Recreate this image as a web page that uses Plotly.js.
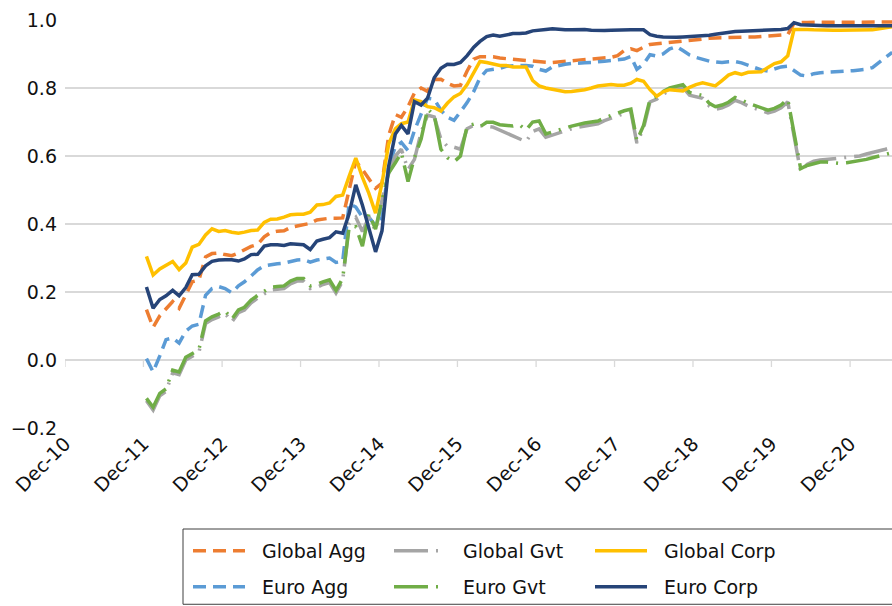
<!DOCTYPE html>
<html>
<head>
<meta charset="utf-8">
<script src="https://cdn.plot.ly/plotly-3.0.1.min.js"></script>
<style>html,body{margin:0;padding:0;background:#fff;}#chart{width:892px;height:606px;}</style>
</head>
<body>
<div id="chart"></div>
<script>
// Monthly observations, Dec-2011 .. Jun-2021 (115 months)
const startYear = 2011, startMonth = 12, nMonths = 115;

const tickDates = ['2010-12-01','2011-12-01','2012-12-01','2013-12-01','2014-12-01','2015-12-01','2016-12-01','2017-12-01','2018-12-01','2019-12-01','2020-12-01'];
const tickLabels = ['Dec-10','Dec-11','Dec-12','Dec-13','Dec-14','Dec-15','Dec-16','Dec-17','Dec-18','Dec-19','Dec-20'];

const globalAgg = [
0.148,0.096,0.13,0.15,0.172,0.152,0.19,0.23,0.235,0.303,0.313,0.315,
0.31,0.307,0.315,0.325,0.334,0.34,0.362,0.375,0.379,0.38,0.39,0.394,
0.397,0.402,0.412,0.415,0.417,0.417,0.418,0.5,0.585,0.56,0.535,0.505,
0.52,0.66,0.722,0.714,0.745,0.785,0.8,0.79,0.825,0.826,0.814,0.806,
0.808,0.85,0.885,0.892,0.892,0.892,0.888,0.886,0.885,0.884,0.882,0.88,
0.878,0.876,0.875,0.876,0.878,0.88,0.882,0.884,0.886,0.887,0.889,0.89,
0.895,0.91,0.915,0.91,0.92,0.928,0.93,0.932,0.935,0.938,0.94,0.942,
0.944,0.945,0.946,0.947,0.948,0.948,0.949,0.949,0.95,0.95,0.951,0.952,
0.953,0.955,0.957,0.99,0.993,0.993,0.993,0.993,0.993,0.993,0.993,0.993,
0.993,0.993,0.993,0.993,0.993,0.993,0.994];

const euroAgg = [
0.004,-0.035,0.012,0.06,0.065,0.05,0.085,0.1,0.105,0.19,0.21,0.216,
0.21,0.198,0.218,0.23,0.247,0.265,0.277,0.281,0.283,0.285,0.29,0.294,
0.295,0.288,0.294,0.298,0.3,0.287,0.29,0.46,0.45,0.42,0.42,0.395,
0.42,0.57,0.627,0.64,0.616,0.675,0.723,0.77,0.767,0.735,0.714,0.705,
0.73,0.757,0.79,0.83,0.852,0.855,0.858,0.864,0.866,0.866,0.866,0.864,
0.855,0.85,0.862,0.867,0.87,0.872,0.874,0.874,0.875,0.876,0.879,0.881,
0.883,0.885,0.893,0.855,0.87,0.898,0.894,0.9,0.915,0.922,0.91,0.897,
0.89,0.884,0.879,0.877,0.875,0.877,0.878,0.874,0.866,0.859,0.853,0.85,
0.857,0.862,0.864,0.85,0.838,0.835,0.842,0.845,0.846,0.846,0.848,0.85,
0.851,0.853,0.855,0.86,0.876,0.89,0.905];

const globalGvt = [
-0.12,-0.147,-0.105,-0.092,-0.038,-0.043,0.0,0.012,0.022,0.107,0.119,0.127,
0.137,0.112,0.139,0.147,0.168,0.182,0.195,0.206,0.208,0.21,0.224,0.232,
0.232,0.21,0.214,0.222,0.228,0.197,0.232,0.40,0.42,0.378,0.42,0.38,
0.47,0.55,0.6,0.62,0.56,0.59,0.67,0.72,0.715,0.65,0.628,0.626,
0.62,0.68,0.69,0.69,0.688,0.685,0.676,0.668,0.66,0.652,0.642,0.672,
0.68,0.655,0.662,0.668,0.674,0.68,0.685,0.689,0.692,0.695,0.704,0.712,
0.719,0.725,0.73,0.638,0.682,0.759,0.767,0.782,0.792,0.798,0.802,0.779,
0.774,0.77,0.747,0.737,0.742,0.75,0.764,0.757,0.747,0.74,0.734,0.727,
0.732,0.742,0.759,0.655,0.553,0.575,0.585,0.588,0.59,0.592,0.593,0.594,
0.596,0.6,0.606,0.61,0.615,0.62,0.626];

const euroGvt = [
-0.113,-0.139,-0.098,-0.085,-0.03,-0.035,0.008,0.02,0.03,0.115,0.127,0.135,
0.145,0.12,0.147,0.155,0.176,0.19,0.203,0.214,0.216,0.218,0.232,0.24,
0.24,0.218,0.222,0.23,0.236,0.205,0.24,0.39,0.392,0.335,0.43,0.385,
0.47,0.55,0.58,0.61,0.525,0.595,0.65,0.738,0.72,0.62,0.595,0.583,
0.6,0.688,0.694,0.686,0.699,0.699,0.692,0.689,0.688,0.692,0.676,0.70,
0.703,0.665,0.67,0.676,0.682,0.688,0.693,0.697,0.70,0.703,0.712,0.72,
0.727,0.733,0.738,0.645,0.69,0.767,0.775,0.79,0.80,0.806,0.81,0.787,
0.782,0.778,0.755,0.745,0.75,0.758,0.772,0.765,0.755,0.748,0.742,0.735,
0.74,0.75,0.767,0.665,0.563,0.572,0.578,0.582,0.582,0.58,0.578,0.58,
0.583,0.586,0.59,0.595,0.6,0.605,0.61];

const globalCorp = [
0.305,0.25,0.268,0.278,0.29,0.266,0.285,0.332,0.34,0.368,0.386,0.378,
0.381,0.376,0.373,0.376,0.381,0.382,0.405,0.414,0.415,0.42,0.427,0.429,
0.429,0.435,0.456,0.457,0.462,0.481,0.485,0.54,0.594,0.537,0.49,0.432,
0.52,0.635,0.68,0.695,0.70,0.765,0.76,0.745,0.742,0.732,0.755,0.774,
0.784,0.81,0.845,0.878,0.875,0.87,0.866,0.866,0.862,0.862,0.862,0.822,
0.806,0.80,0.797,0.792,0.789,0.79,0.792,0.795,0.80,0.806,0.808,0.81,
0.808,0.808,0.814,0.825,0.82,0.795,0.776,0.789,0.795,0.794,0.791,0.802,
0.81,0.815,0.81,0.806,0.822,0.838,0.845,0.84,0.846,0.848,0.848,0.86,
0.872,0.877,0.895,0.972,0.973,0.972,0.971,0.97,0.97,0.97,0.97,0.97,
0.97,0.97,0.97,0.971,0.974,0.977,0.98];

const euroCorp = [
0.215,0.152,0.178,0.189,0.205,0.189,0.213,0.251,0.252,0.277,0.29,0.294,
0.295,0.295,0.291,0.297,0.31,0.311,0.335,0.339,0.339,0.337,0.342,0.341,
0.339,0.325,0.35,0.355,0.36,0.377,0.373,0.43,0.515,0.455,0.385,0.318,
0.38,0.57,0.665,0.69,0.665,0.76,0.75,0.77,0.83,0.858,0.87,0.869,
0.875,0.895,0.92,0.937,0.951,0.956,0.952,0.956,0.96,0.96,0.962,0.968,
0.969,0.972,0.974,0.972,0.971,0.971,0.972,0.972,0.97,0.969,0.969,0.97,
0.971,0.971,0.971,0.971,0.971,0.957,0.952,0.95,0.949,0.949,0.95,0.951,
0.952,0.953,0.955,0.958,0.961,0.963,0.966,0.967,0.968,0.968,0.969,0.969,
0.97,0.972,0.975,0.992,0.986,0.985,0.983,0.983,0.983,0.983,0.983,0.983,
0.983,0.983,0.983,0.983,0.983,0.983,0.983];

const dates = [];
for (let k = 0; k < nMonths; k++) {
  const mIdx = (startMonth - 1) + k;
  const y = startYear + Math.floor(mIdx / 12);
  const m = (mIdx % 12) + 1;
  dates.push(y + '-' + String(m).padStart(2, '0') + '-15');
}

const AGG_DASH = '13px,7px';
const GVT_DASH = '34px,8px,2px,8px';
const LW = 3.5;
const PAD = '\u00a0\u00a0';

function tr(name, y, color, dash, legend) {
  return {x: dates, y: y, name: PAD + name, type: 'scatter', mode: 'lines',
    line: {color: color, width: LW, dash: dash}, legend: legend, hoverinfo: 'skip'};
}

const data = [
  tr('Global Agg', globalAgg, '#ED7D31', AGG_DASH, 'legend'),
  tr('Euro Agg', euroAgg, '#5B9BD5', AGG_DASH, 'legend2'),
  tr('Global Gvt', globalGvt, '#A5A5A5', GVT_DASH, 'legend'),
  tr('Euro Gvt', euroGvt, '#70AD47', GVT_DASH, 'legend2'),
  tr('Global Corp', globalCorp, '#FFC000', 'solid', 'legend'),
  tr('Euro Corp', euroCorp, '#264478', 'solid', 'legend2')
];

const FONT = 'DejaVu Sans, Verdana, sans-serif';
const FS = 19;
const tickShapes = tickDates.map(d => ({
  type: 'line', xref: 'x', yref: 'y', x0: d, x1: d,
  ysizemode: 'pixel', yanchor: 0, y0: 0, y1: -7,
  line: {color: '#d9d9d9', width: 1.3}, layer: 'below'
}));

const legendCommon = {
  orientation: 'h', xanchor: 'left', yanchor: 'middle',
  entrywidth: 134, entrywidthmode: 'pixels', itemwidth: 52,
  font: {family: FONT, size: FS, color: '#111'},
  bgcolor: 'rgba(0,0,0,0)', borderwidth: 0, traceorder: 'normal'
};

const layout = {
  width: 892, height: 606,
  margin: {l: 65, r: 0, t: 20, b: 174},
  paper_bgcolor: '#fff', plot_bgcolor: '#fff',
  font: {family: FONT, size: FS, color: '#111'},
  showlegend: true,
  xaxis: {
    type: 'date', range: ['2010-12-01', '2021-06-14'],
    tickmode: 'array', tickvals: tickDates, ticktext: tickLabels,
    tickangle: -45, showgrid: false, zeroline: false, showline: false, ticks: '',
    tickfont: {family: FONT, size: FS, color: '#111'}, automargin: false
  },
  yaxis: {
    range: [-0.2, 1.0], tickmode: 'linear', tick0: -0.2, dtick: 0.2, tickformat: '.1f',
    showgrid: true, gridcolor: '#d9d9d9', gridwidth: 1.3,
    zeroline: true, zerolinecolor: '#d9d9d9', zerolinewidth: 1.5,
    showline: false, ticks: '', ticklabelstandoff: 7,
    tickfont: {family: FONT, size: FS, color: '#111'}, automargin: false
  },
  legend: Object.assign({}, legendCommon, {x: (188 - 65) / 827, y: (432 - 556) / 412}),
  legend2: Object.assign({}, legendCommon, {x: (188 - 65) / 827, y: (432 - 593) / 412}),
  shapes: tickShapes.concat([{
    type: 'rect', xref: 'paper', yref: 'paper',
    x0: (183 - 65) / 827, x1: (893 - 65) / 827,
    y0: (432 - 534) / 412, y1: (432 - 610) / 412,
    line: {color: '#3f3f3f', width: 1}, fillcolor: 'rgba(0,0,0,0)'
  }])
};

Plotly.newPlot('chart', data, layout, {staticPlot: true, displayModeBar: false});
</script>
</body>
</html>
